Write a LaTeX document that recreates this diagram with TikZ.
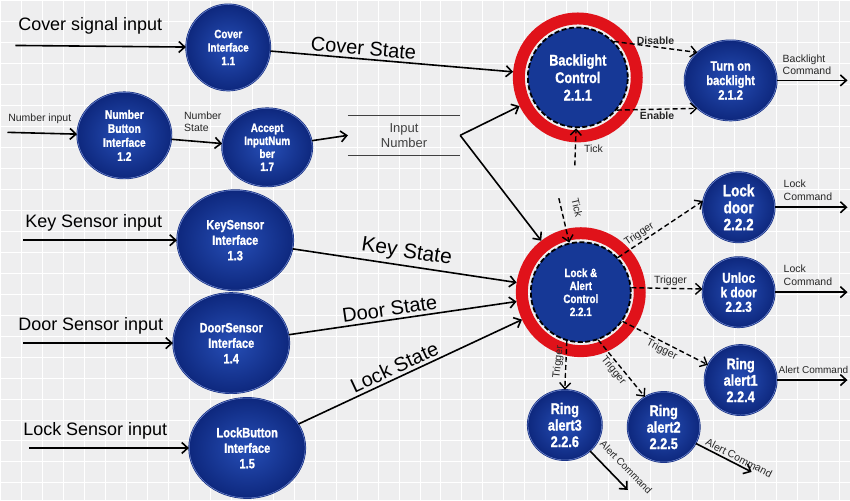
\documentclass[tikz,border=0pt]{standalone}
\usepackage{fontspec}
\setmainfont{Liberation Sans}
\newfontfamily\bubblefont{Liberation Sans}[FakeStretch=0.82, BoldFeatures={FakeBold=1.2}]
\usetikzlibrary{calc,shapes.geometric,arrows.meta}

\definecolor{paper}{RGB}{238,238,239}
\definecolor{bubbleIn}{RGB}{38,78,182}
\definecolor{bubbleOut}{RGB}{14,40,126}
\definecolor{bubbleRim}{RGB}{118,142,212}
\definecolor{ctrlBlue}{RGB}{22,56,150}
\definecolor{ringRed}{RGB}{224,18,26}

\newcommand{\fsz}[2]{\fontsize{#1}{#2}\selectfont}

\begin{document}
\begin{tikzpicture} [x=1pt,y=-1pt,
  bubble/.style 2 args=
  {ellipse, inner sep=0pt, shade, inner color=bubbleIn, outer color=bubbleOut,
    draw=bubbleOut, double=bubbleRim, double distance=0.5pt, line width=0.7pt,
    text=white, align=center, font=\bubblefont\bfseries\fsz{#1}{#2}},
  ctrl/.style 2 args=
  {circle, inner sep=0pt, minimum size=100pt, fill=ctrlBlue, draw=black,
    line width=1.8pt, dash pattern=on 5pt off 2.5pt,
    text=white, align=center, font=\bubblefont\bfseries\fsz{#1}{#2}},
  ring/.style={circle, inner sep=0pt, minimum size=118pt, draw=ringRed, line width=12pt},
  store/.style={inner sep=0pt, minimum width=112pt, minimum height=40pt, align=center,
    font=\fsz{13}{15}, text=black!75},
  flow/.style={draw=black, line width=1.6pt, -{Straight Barb[length=6pt,width=11pt]}},
  trig/.style={flow, line width=1.4pt, dash pattern=on 5pt off 3pt},
  small/.style={font=\fsz{10.5}{12.5}, text=black!85, inner sep=2pt},
  inlabel/.style={font=\fsz{18}{20}, inner sep=0pt, anchor=south west},
  stateLbl/.style={font=\fsz{#1}{#1}, sloped, above, inner sep=3pt}]

% paper with its faint grid
\fill [paper] (0,0) rectangle (850,500);
\foreach \gx in {0,21,...,850} \draw [white, line width=1pt] (\gx,0) -- (\gx,500);
\foreach \gy in {0,21,...,500} \draw [white, line width=1pt] (0,\gy) -- (850,\gy);
\useasboundingbox (0,0) rectangle (850,500);

% interfaces
\node [bubble={12}{13.5}, minimum width=84pt, minimum height=86pt] (cov) at (228,47) {Cover\\Interface\\1.1};
\node [bubble={12.5}{14}, minimum width=94pt, minimum height=86pt] (nbi) at (124,135) {Number\\Button\\Interface\\1.2};
\node [bubble={12}{13}, minimum width=90pt, minimum height=78pt] (acc) at (267,147) {Accept\\InputNum\\ber\\1.7};
\node [bubble={13.5}{15.5}, minimum width=116pt, minimum height=100pt] (ksi) at (235,240) {KeySensor\\Interface\\1.3};
\node [bubble={13.5}{15.5}, minimum width=116pt, minimum height=100pt] (dsi) at (231,343) {DoorSensor\\Interface\\1.4};
\node [bubble={13.5}{15.5}, minimum width=116pt, minimum height=100pt] (lbi) at (247,448) {LockButton\\Interface\\1.5};

% data store
\node [store] (inNum) at (404,135) {Input\\Number};
\draw [black!75, line width=1.3pt] (inNum.north west) -- (inNum.north east)
  (inNum.south west) -- (inNum.south east);

% controls
\node [ring] (blRing) at (578,77) {};
\node [ctrl={15.5}{17.5}] (bl) at (blRing) {Backlight\\Control\\2.1.1};
\node [ring] (laRing) at (581,292) {};
\node [ctrl={12}{13}] (la) at (laRing) {Lock \&\\Alert\\Control\\2.2.1};

% actions
\node [bubble={13.5}{14.5}, minimum width=92pt, minimum height=80pt] (tob) at (731,80) {Turn on\\backlight\\2.1.2};
\node [bubble={16.5}{17}, minimum width=72pt, minimum height=70pt] (ld) at (739,207) {Lock\\door\\2.2.2};
\node [bubble={14.5}{14.5}, minimum width=72pt, minimum height=70pt] (ud) at (739,292) {Unloc\\k door\\2.2.3};
\node [bubble={15.5}{16.5}, minimum width=72pt, minimum height=70pt] (ra1) at (741,380) {Ring\\alert1\\2.2.4};
\node [bubble={15.5}{16.5}, minimum width=72pt, minimum height=70pt] (ra2) at (664,427) {Ring\\alert2\\2.2.5};
\node [bubble={15.5}{16.5}, minimum width=74pt, minimum height=70pt] (ra3) at (565,425) {Ring\\alert3\\2.2.6};

% free ends
\coordinate (covSrc) at (15,45);
\coordinate (numSrc) at (7,132);
\coordinate (keySrc) at (23,240);
\coordinate (doorSrc) at (23,343);
\coordinate (lockSrc) at (29,448);
\coordinate (tickBl) at (575,165);
\coordinate (tickLa) at (559,198);
\coordinate (blCmd) at (848,80);
\coordinate (ldCmd) at (848,207);
\coordinate (udCmd) at (848,292);
\coordinate (ra1Cmd) at (848,380);
\coordinate (ra2Cmd) at (752,472);
\coordinate (ra3Cmd) at (628,490);

% inputs
\draw [flow] (covSrc) -- node[inlabel, pos=0, xshift=2pt, yshift=10pt] {Cover signal input} (cov);
\draw [flow] (numSrc) -- node[small, pos=0, anchor=south west, inner sep=0pt, yshift=8pt] {Number input} (nbi);
\draw [flow] (keySrc) -- node[inlabel, pos=0, xshift=1pt, yshift=8pt] {Key Sensor input} (ksi);
\draw [flow] (doorSrc) -- node[inlabel, pos=0, xshift=-6pt, yshift=8pt] {Door Sensor input} (dsi);
\draw [flow] (lockSrc) -- node[inlabel, pos=0, xshift=-7pt, yshift=8pt] {Lock Sensor input} (lbi);

\draw [flow] (nbi) -- node[small, above, align=left, xshift=6pt, yshift=7pt] {Number\\State} (acc);
\draw [flow] (acc) -- (inNum.west);

% states into the controls
\draw [flow] (cov) -- node[stateLbl=20, pos=0.38] {Cover State} (blRing);
\draw [flow] (inNum.east) -- (blRing);
\draw [flow] (inNum.east) -- (laRing);
\draw [flow] (ksi) -- node[stateLbl=21, pos=0.5] {Key State} (laRing);
\draw [flow] (dsi) -- node[stateLbl=20, pos=0.45] {Door State} (laRing);
\draw [flow] (lbi) -- node[stateLbl=20, pos=0.45] {Lock State} (laRing);

% backlight branch
\draw [trig] (bl.45) -- node[small, above, font=\bfseries\fsz{10.5}{12}] {Disable} (tob.140);
\draw [trig] (bl.-40) -- node[small, below, font=\bfseries\fsz{10.5}{12}] {Enable} (tob.220);
\draw [trig] (tickBl) -- node[small, right, pos=0.45, xshift=6pt] {Tick} (bl);
\draw [flow] (tob) -- node[small, pos=0, anchor=south west, align=left, inner sep=0pt, xshift=5pt, yshift=5pt] {Backlight\\Command} (blCmd);

% lock and alert branch
\draw [trig] (tickLa) -- node[small, sloped, above=9pt, pos=0.3] {Tick} (la);
\draw [trig] (la.43) -- node[small, sloped, above, pos=0.3] {Trigger} (ld.170);
\draw [trig] (la.5) -- node[small, above, pos=0.55] {Trigger} (ud.175);
\draw [trig] (la.-35) -- node[small, sloped, below, pos=0.5] {Trigger} (ra1.155);
\draw [trig] (la.-70) -- node[small, sloped, below, pos=0.45] {Trigger} (ra2.122);
\draw [trig] (la.-106) -- node[small, anchor=south, rotate=84, pos=0.45] {Trigger} (ra3.north);

\draw [flow] (ld) -- node[small, pos=0, anchor=south west, align=left, inner sep=0pt, xshift=8pt, yshift=6pt] {Lock\\Command} (ldCmd);
\draw [flow] (ud) -- node[small, pos=0, anchor=south west, align=left, inner sep=0pt, xshift=8pt, yshift=6pt] {Lock\\Command} (udCmd);
\draw [flow] (ra1) -- node[small, pos=0, anchor=south west, inner sep=0pt, xshift=1pt, yshift=6pt, font=\fsz{10}{12}] {Alert Command} (ra1Cmd);
\draw [flow] (ra2) -- node[small, sloped, above, pos=0.72] {Alert Command} (ra2Cmd);
\draw [flow] (ra3) -- node[small, sloped, above=8pt, pos=0.68, font=\fsz{10}{12}] {Alert Command} (ra3Cmd);

\end{tikzpicture}
\end{document}
